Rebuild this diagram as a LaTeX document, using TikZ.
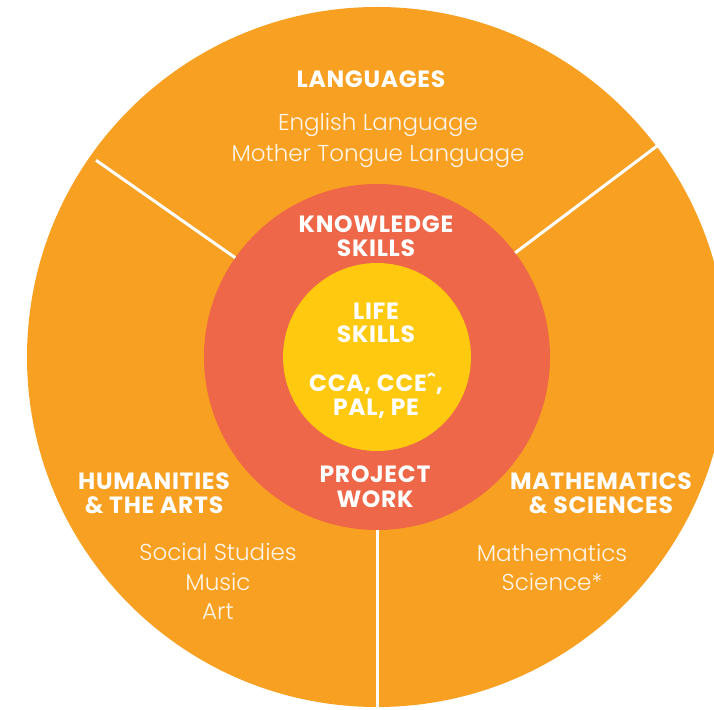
\documentclass[tikz,border=0pt]{standalone}
\usepackage{fontspec}
\newfontfamily\headfont{Poppins}[UprightFont=* Bold, LetterSpace=3]
\newfontfamily\lightfont{Poppins}[UprightFont=* Light]
\definecolor{outerorange}{RGB}{247,160,34}
\definecolor{midred}{RGB}{237,103,72}
\definecolor{coreyellow}{RGB}{254,201,15}
\definecolor{creamwhite}{RGB}{255,246,232}
\begin{document}
\begin{tikzpicture}[x=1pt,y=1pt,
  head/.style={text=white, font=\headfont\fontsize{23.5}{24}\selectfont, anchor=base, inner sep=0pt},
  item/.style={text=creamwhite, font=\lightfont\fontsize{23}{23}\selectfont, anchor=base, inner sep=0pt},
  divider/.style={draw=white, line width=3pt}]
\useasboundingbox (0,0) rectangle (714,709);
\clip (0,0) rectangle (714,709);
\coordinate (c) at (377,352);
\fill[outerorange] (c) circle (350);
\fill[midred] (c) circle (173);
\fill[coreyellow] (c) circle (94);
% dividers
\path (c) +(145:173) coordinate (d1a) +(145:343) coordinate (d1b);
\path (c) +(37:173) coordinate (d2a) +(37:351) coordinate (d2b);
\path (c) +(270:173) coordinate (d3a) +(270:360) coordinate (d3b);
\draw[divider] (d1a) -- (d1b);
\draw[divider] (d2a) -- (d2b);
\draw[divider] (d3a) -- (d3b);
% languages
\node[head] (lang) at (371,621) {LANGUAGES};
\node[item] (eng) at (378,578) {English Language};
\node[item] (mtl) at (378,547) {Mother Tongue Language};
% knowledge skills
\node[head] (know1) at (376,476) {KNOWLEDGE};
\node[head] (know2) at (376,452) {SKILLS};
% life skills
\node[head] (life1) at (376,389) {LIFE};
\node[head] (life2) at (376,366) {SKILLS};
\node[head] (cca1) at (376,317) {CCA, CCEˆ,};
\node[head] (cca2) at (376,293) {PAL, PE};
% project work
\node[head] (proj1) at (375,226) {PROJECT};
\node[head] (proj2) at (375,201) {WORK};
% humanities
\node[head] (hum1) at (154,219) {HUMANITIES};
\node[head] (hum2) at (154,195) {\& THE ARTS};
\node[item] (ss) at (218,148) {Social Studies};
\node[item] (mus) at (218,118) {Music};
\node[item] (art) at (218,89) {Art};
% mathematics
\node[head] (mat1) at (601,219) {MATHEMATICS};
\node[head] (mat2) at (601,195) {\& SCIENCES};
\node[item] (math) at (552,147) {Mathematics};
\node[item] (sci) at (552,118) {Science*};
\end{tikzpicture}
\end{document}
